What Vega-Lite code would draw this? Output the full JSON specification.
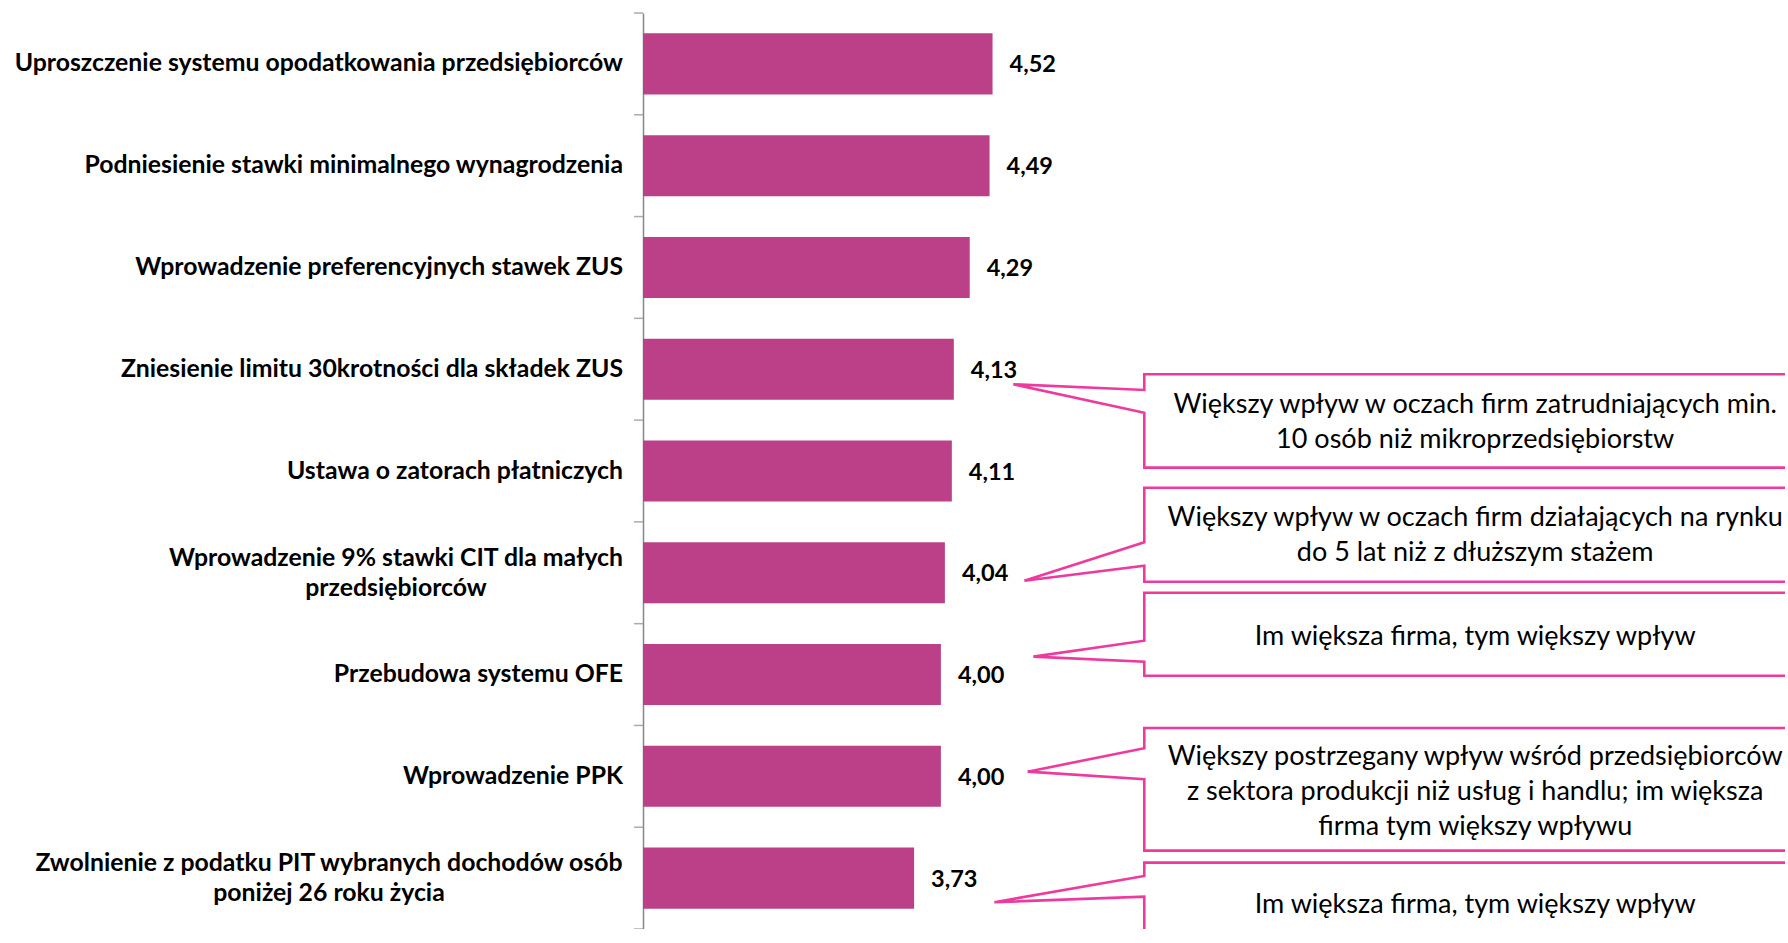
{
  "$schema": "https://vega.github.io/schema/vega-lite/v6.json",
  "width": 1142,
  "height": 916,
  "padding": {"left": 643, "top": 13, "right": 0, "bottom": 0},
  "autosize": {"type": "none"},
  "background": "white",
  "config": {
    "view": {"stroke": null},
    "locale": {"number": {"decimal": ",", "thousands": " ", "grouping": [3], "currency": ["", " zł"]}}
  },
  "datasets": {
    "bars": [
      {"kategoria": "Uproszczenie systemu opodatkowania przedsiębiorców", "ocena": 4.52},
      {"kategoria": "Podniesienie stawki minimalnego wynagrodzenia", "ocena": 4.49},
      {"kategoria": "Wprowadzenie preferencyjnych stawek ZUS", "ocena": 4.29},
      {"kategoria": "Zniesienie limitu 30krotności dla składek ZUS", "ocena": 4.13},
      {"kategoria": "Ustawa o zatorach płatniczych", "ocena": 4.11},
      {"kategoria": "Wprowadzenie 9% stawki CIT dla małych\nprzedsiębiorców", "ocena": 4.04},
      {"kategoria": "Przebudowa systemu OFE", "ocena": 4.00},
      {"kategoria": "Wprowadzenie PPK", "ocena": 4.00},
      {"kategoria": "Zwolnienie z podatku PIT wybranych dochodów osób\nponiżej 26 roku życia", "ocena": 3.73}
    ],
    "granice": [
      {"g": 0}, {"g": 1}, {"g": 2}, {"g": 3}, {"g": 4}, {"g": 5}, {"g": 6}, {"g": 7}, {"g": 8}, {"g": 9}
    ],
    "callouts": [
      {"id": 1, "i": 0, "x": 4.729, "y": 3.648},
      {"id": 1, "i": 1, "x": 6.048, "y": 3.704},
      {"id": 1, "i": 2, "x": 6.048, "y": 3.550},
      {"id": 1, "i": 3, "x": 12.7, "y": 3.550},
      {"id": 1, "i": 4, "x": 12.7, "y": 4.467},
      {"id": 1, "i": 5, "x": 6.048, "y": 4.467},
      {"id": 1, "i": 6, "x": 6.048, "y": 3.927},
      {"id": 1, "i": 7, "x": 4.729, "y": 3.648},
      {"id": 2, "i": 0, "x": 4.840, "y": 5.578},
      {"id": 2, "i": 1, "x": 6.048, "y": 5.200},
      {"id": 2, "i": 2, "x": 6.048, "y": 4.664},
      {"id": 2, "i": 3, "x": 12.7, "y": 4.664},
      {"id": 2, "i": 4, "x": 12.7, "y": 5.588},
      {"id": 2, "i": 5, "x": 6.048, "y": 5.588},
      {"id": 2, "i": 6, "x": 6.048, "y": 5.430},
      {"id": 2, "i": 7, "x": 4.840, "y": 5.578},
      {"id": 3, "i": 0, "x": 4.931, "y": 6.324},
      {"id": 3, "i": 1, "x": 6.048, "y": 6.167},
      {"id": 3, "i": 2, "x": 6.048, "y": 5.696},
      {"id": 3, "i": 3, "x": 12.7, "y": 5.696},
      {"id": 3, "i": 4, "x": 12.7, "y": 6.511},
      {"id": 3, "i": 5, "x": 6.048, "y": 6.511},
      {"id": 3, "i": 6, "x": 6.048, "y": 6.374},
      {"id": 3, "i": 7, "x": 4.931, "y": 6.324},
      {"id": 4, "i": 0, "x": 4.873, "y": 7.454},
      {"id": 4, "i": 1, "x": 6.048, "y": 7.224},
      {"id": 4, "i": 2, "x": 6.048, "y": 7.025},
      {"id": 4, "i": 3, "x": 12.7, "y": 7.025},
      {"id": 4, "i": 4, "x": 12.7, "y": 8.230},
      {"id": 4, "i": 5, "x": 6.048, "y": 8.230},
      {"id": 4, "i": 6, "x": 6.048, "y": 7.529},
      {"id": 4, "i": 7, "x": 4.873, "y": 7.454},
      {"id": 5, "i": 0, "x": 4.538, "y": 8.737},
      {"id": 5, "i": 1, "x": 6.048, "y": 8.479},
      {"id": 5, "i": 2, "x": 6.048, "y": 8.348},
      {"id": 5, "i": 3, "x": 12.7, "y": 8.348},
      {"id": 5, "i": 4, "x": 12.7, "y": 9.18},
      {"id": 5, "i": 5, "x": 6.048, "y": 9.18},
      {"id": 5, "i": 6, "x": 6.048, "y": 8.682},
      {"id": 5, "i": 7, "x": 4.538, "y": 8.737}
    ],
    "notes": [
      {"x": 9.38, "y": 3.851, "tekst": "Większy wpływ w oczach firm zatrudniających min.\n10 osób niż mikroprzedsiębiorstw"},
      {"x": 9.38, "y": 4.965, "tekst": "Większy wpływ w oczach firm działających na rynku\ndo 5 lat niż z dłuższym stażem"},
      {"x": 9.38, "y": 6.128, "tekst": "Im większa firma, tym większy wpływ"},
      {"x": 9.38, "y": 7.307, "tekst": "Większy postrzegany wpływ wśród przedsiębiorców\nz sektora produkcji niż usług i handlu; im większa\nfirma tym większy wpływu"},
      {"x": 9.38, "y": 8.764, "tekst": "Im większa firma, tym większy wpływ"}
    ]
  },
  "layer": [
    {
      "data": {"name": "bars"},
      "mark": {"type": "bar", "color": "#BC4088"},
      "encoding": {
        "y": {
          "field": "kategoria", "type": "nominal", "sort": null,
          "scale": {"paddingInner": 0.4, "paddingOuter": 0.2},
          "axis": {"title": null, "labels": false, "ticks": false, "domainColor": "#888888", "domainWidth": 1.5}
        },
        "x": {"field": "ocena", "type": "quantitative", "scale": {"domain": [1, 12.5], "nice": false, "zero": false}, "axis": null},
        "x2": {"datum": 1}
      }
    },
    {
      "data": {"name": "bars"},
      "mark": {"type": "text", "align": "left", "baseline": "middle", "dx": 17, "dy": 1.5, "font": "Lato", "fontWeight": "bold", "fontSize": 23.5, "color": "#000000"},
      "encoding": {
        "y": {"field": "kategoria", "type": "nominal", "sort": null, "axis": null},
        "x": {"field": "ocena", "type": "quantitative", "scale": {"domain": [1, 12.5], "nice": false, "zero": false}, "axis": null},
        "text": {"field": "ocena", "type": "quantitative", "format": ".2f"}
      }
    },
    {
      "data": {"name": "bars"},
      "mark": {"type": "text", "align": "right", "baseline": "middle", "dx": -20, "dy": 0.5, "font": "Lato", "fontWeight": "bold", "fontSize": 24.8, "color": "#000000"},
      "encoding": {
        "y": {"field": "kategoria", "type": "nominal", "sort": null, "axis": null},
        "x": {"datum": 1, "type": "quantitative", "scale": {"domain": [1, 12.5], "nice": false, "zero": false}, "axis": null},
        "text": {"condition": {"test": "indexof(datum.kategoria, '\\n') < 0", "field": "kategoria", "type": "nominal"}, "value": ""}
      }
    },
    {
      "data": {"name": "bars"},
      "mark": {"type": "text", "align": "center", "baseline": "middle", "dx": -247, "dy": -14, "lineBreak": "\n", "lineHeight": 30, "font": "Lato", "fontWeight": "bold", "fontSize": 24.8, "color": "#000000"},
      "encoding": {
        "y": {"field": "kategoria", "type": "nominal", "sort": null, "axis": null},
        "x": {"datum": 1, "type": "quantitative", "scale": {"domain": [1, 12.5], "nice": false, "zero": false}, "axis": null},
        "text": {"condition": {"test": "indexof(datum.kategoria, 'Wprowadzenie 9%') == 0", "field": "kategoria", "type": "nominal"}, "value": ""}
      }
    },
    {
      "data": {"name": "bars"},
      "mark": {"type": "text", "align": "center", "baseline": "middle", "dx": -314, "dy": -14, "lineBreak": "\n", "lineHeight": 30, "font": "Lato", "fontWeight": "bold", "fontSize": 24.8, "color": "#000000"},
      "encoding": {
        "y": {"field": "kategoria", "type": "nominal", "sort": null, "axis": null},
        "x": {"datum": 1, "type": "quantitative", "scale": {"domain": [1, 12.5], "nice": false, "zero": false}, "axis": null},
        "text": {"condition": {"test": "indexof(datum.kategoria, 'Zwolnienie z podatku') == 0", "field": "kategoria", "type": "nominal"}, "value": ""}
      }
    },
    {
      "data": {"name": "granice"},
      "mark": {"type": "tick", "orient": "horizontal", "color": "#888888", "size": 9, "thickness": 1.5, "xOffset": -4.5},
      "encoding": {
        "x": {"datum": 1, "type": "quantitative", "scale": {"domain": [1, 12.5], "nice": false, "zero": false}, "axis": null},
        "y": {"field": "g", "type": "quantitative", "scale": {"domain": [0, 9], "nice": false, "zero": false, "reverse": true}, "axis": null}
      }
    },
    {
      "data": {"name": "callouts"},
      "mark": {"type": "line", "color": "#EE3A9E", "strokeWidth": 2.6, "strokeJoin": "miter"},
      "encoding": {
        "x": {"field": "x", "type": "quantitative", "scale": {"domain": [1, 12.5], "nice": false, "zero": false}, "axis": null},
        "y": {"field": "y", "type": "quantitative", "scale": {"domain": [0, 9], "nice": false, "zero": false, "reverse": true}, "axis": null},
        "detail": {"field": "id", "type": "nominal"},
        "order": {"field": "i", "type": "quantitative"}
      }
    },
    {
      "data": {"name": "notes"},
      "mark": {"type": "text", "align": "center", "baseline": "middle", "lineBreak": "\n", "lineHeight": 35, "font": "Lato", "fontSize": 27, "color": "#000000"},
      "encoding": {
        "x": {"field": "x", "type": "quantitative", "scale": {"domain": [1, 12.5], "nice": false, "zero": false}, "axis": null},
        "y": {"field": "y", "type": "quantitative", "scale": {"domain": [0, 9], "nice": false, "zero": false, "reverse": true}, "axis": null},
        "text": {"field": "tekst", "type": "nominal"}
      }
    }
  ],
  "resolve": {"scale": {"y": "independent"}}
}
